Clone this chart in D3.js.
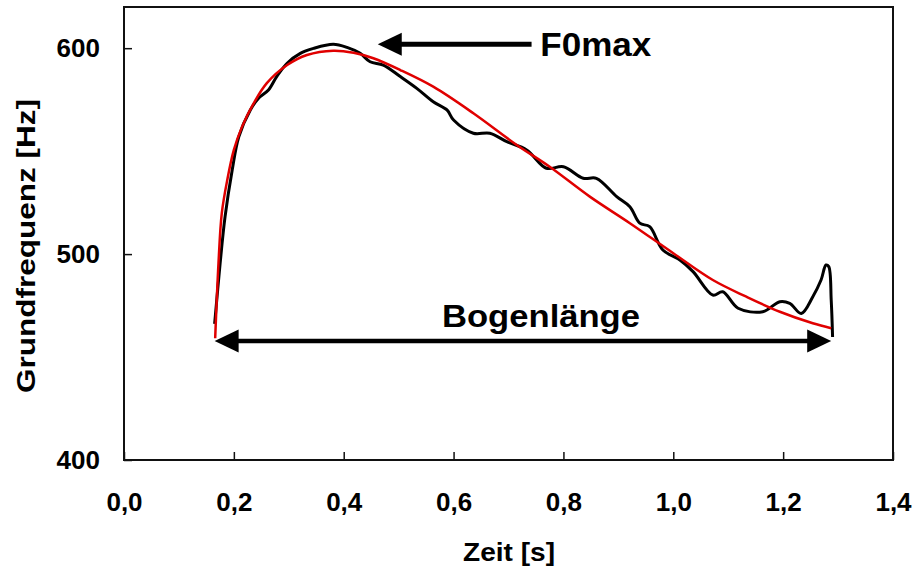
<!DOCTYPE html>
<html>
<head>
<meta charset="utf-8">
<script src="https://cdn.jsdelivr.net/npm/d3@7"></script>
<style>
  html, body { margin: 0; padding: 0; background: #fff; }
  text { font-family: "Liberation Sans", Arial, sans-serif; font-weight: bold; fill: #000; }
</style>
</head>
<body>
<svg id="chart" width="914" height="569"></svg>
<script>
// measured F0 contour: time [s], frequency [Hz]
const f0Time = [0.165, 0.175, 0.184, 0.197, 0.209, 0.230, 0.245, 0.263, 0.278, 0.297,
  0.321, 0.345, 0.381, 0.406, 0.430, 0.448, 0.472, 0.503, 0.533, 0.563, 0.588, 0.600,
  0.636, 0.666, 0.697, 0.733, 0.769, 0.800, 0.836, 0.860, 0.897, 0.921, 0.939, 0.957,
  0.981, 1.012, 1.036, 1.072, 1.090, 1.118, 1.163, 1.194, 1.212, 1.233, 1.254, 1.269,
  1.278, 1.283, 1.2875, 1.290];
const f0Hz = [466.1, 495.5, 518.2, 540.8, 557.0, 570.0, 575.7, 579.7, 586.2, 592.7,
  597.5, 599.9, 601.9, 600.4, 597.5, 593.4, 591.8, 586.2, 580.5, 574.0, 570.0, 565.1,
  558.7, 558.7, 554.6, 550.6, 541.7, 542.4, 536.8, 536.8, 527.9, 523.0, 515.0, 513.3,
  502.0, 497.1, 491.5, 480.1, 481.7, 473.7, 472.0, 476.9, 476.1, 471.2, 479.3, 487.4,
  494.7, 493.9, 477.7, 459.7];

// fitted curve through the contour
const fitTime = [0.166, 0.172, 0.178, 0.188, 0.200, 0.215, 0.236, 0.260, 0.297, 0.333,
  0.381, 0.418, 0.454, 0.503, 0.563, 0.636, 0.715, 0.775, 0.848, 0.921, 1.000, 1.072,
  1.133, 1.194, 1.254, 1.2875];
const fitHz = [459.1, 495.5, 519.8, 536.0, 550.6, 561.9, 573.2, 583.0, 591.8, 596.7,
  598.8, 597.8, 595.1, 589.4, 581.3, 568.4, 553.0, 542.4, 527.9, 515.0, 500.4, 487.4,
  479.3, 472.0, 466.4, 464.0];

const xTicks = [0, 0.2, 0.4, 0.6, 0.8, 1.0, 1.2, 1.4];
const yTicks = [400, 500, 600];

const f0 = f0Time.map((t, i) => ({ t, hz: f0Hz[i] }));
const fit = fitTime.map((t, i) => ({ t, hz: fitHz[i] }));

const svg = d3.select("#chart");
const plotL = 124, plotR = 893, plotT = 7, plotB = 460;

const x = d3.scaleLinear().domain([0, 1.4]).range([plotL, plotR]);
const y = d3.scaleLinear().domain([400, 620]).range([plotB, plotT]);

const comma = d => d3.format(".1f")(d).replace(".", ",");

// axes with inward ticks
const xAxis = svg.append("g")
  .attr("transform", `translate(0,${plotB})`)
  .call(d3.axisBottom(x).tickValues(xTicks).tickSize(-8).tickPadding(33).tickFormat(comma));
const yAxis = svg.append("g")
  .attr("transform", `translate(${plotL},0)`)
  .call(d3.axisLeft(y).tickValues(yTicks).tickSize(-8).tickPadding(24).tickFormat(d3.format("d")));

[xAxis, yAxis].forEach(a => {
  a.select(".domain").remove();
  a.selectAll(".tick line").attr("stroke", "#111").attr("stroke-width", 1.5);
  a.selectAll(".tick text").style("font-size", "26px").attr("fill", "#000");
});

// plot frame
svg.append("rect")
  .attr("x", plotL).attr("y", plotT)
  .attr("width", plotR - plotL).attr("height", plotB - plotT)
  .attr("fill", "none").attr("stroke", "#111").attr("stroke-width", 2);

const line = d3.line().x(d => x(d.t)).y(d => y(d.hz)).curve(d3.curveCatmullRom.alpha(0.5));

svg.append("path").datum(f0)
  .attr("d", line)
  .attr("fill", "none").attr("stroke", "#000").attr("stroke-width", 3)
  .attr("stroke-linejoin", "round");

svg.append("path").datum(fit)
  .attr("d", line)
  .attr("fill", "none").attr("stroke", "#e00000").attr("stroke-width", 2.5);

// filled arrow head with its tip at (px,py), opening towards dir
function arrowHead(px, py, dir) {
  const len = 24, half = 11.5;
  return `M${px},${py}L${px + dir * len},${py - half}L${px + dir * len},${py + half}Z`;
}

// F0max marker, drawn at the contour's peak value
const peak = f0[d3.maxIndex(f0, d => d.hz)];
const fmY = y(peak.hz);
const fmTip = x(0.462), fmEnd = x(0.742);
svg.append("line")
  .attr("x1", fmTip + 20).attr("x2", fmEnd)
  .attr("y1", fmY).attr("y2", fmY)
  .attr("stroke", "#000").attr("stroke-width", 5);
svg.append("path").attr("d", arrowHead(fmTip, fmY, 1)).attr("fill", "#000");
svg.append("text")
  .attr("x", x(0.758)).attr("y", fmY + 12)
  .attr("textLength", 111).attr("lengthAdjust", "spacingAndGlyphs")
  .style("font-size", "34px")
  .text("F0max");

// arc length: from first to last contour sample
const blY = y(457.8);
const blL = x(f0[0].t), blR = x(fit[fit.length - 1].t);
svg.append("line")
  .attr("x1", blL + 20).attr("x2", blR - 20)
  .attr("y1", blY).attr("y2", blY)
  .attr("stroke", "#000").attr("stroke-width", 4.5);
svg.append("path").attr("d", arrowHead(blL, blY, 1)).attr("fill", "#000");
svg.append("path").attr("d", arrowHead(blR, blY, -1)).attr("fill", "#000");
svg.append("text")
  .attr("x", 541).attr("y", 327)
  .attr("text-anchor", "middle")
  .attr("textLength", 198).attr("lengthAdjust", "spacingAndGlyphs")
  .style("font-size", "31px")
  .text("Bogenlänge");

// axis titles
svg.append("text")
  .attr("x", 509).attr("y", 561)
  .attr("text-anchor", "middle")
  .attr("textLength", 92).attr("lengthAdjust", "spacingAndGlyphs")
  .style("font-size", "26px")
  .text("Zeit [s]");

svg.append("text")
  .attr("transform", "translate(35,246) rotate(-90)")
  .attr("text-anchor", "middle")
  .attr("textLength", 294).attr("lengthAdjust", "spacingAndGlyphs")
  .style("font-size", "26px")
  .text("Grundfrequenz [Hz]");
</script>
</body>
</html>
